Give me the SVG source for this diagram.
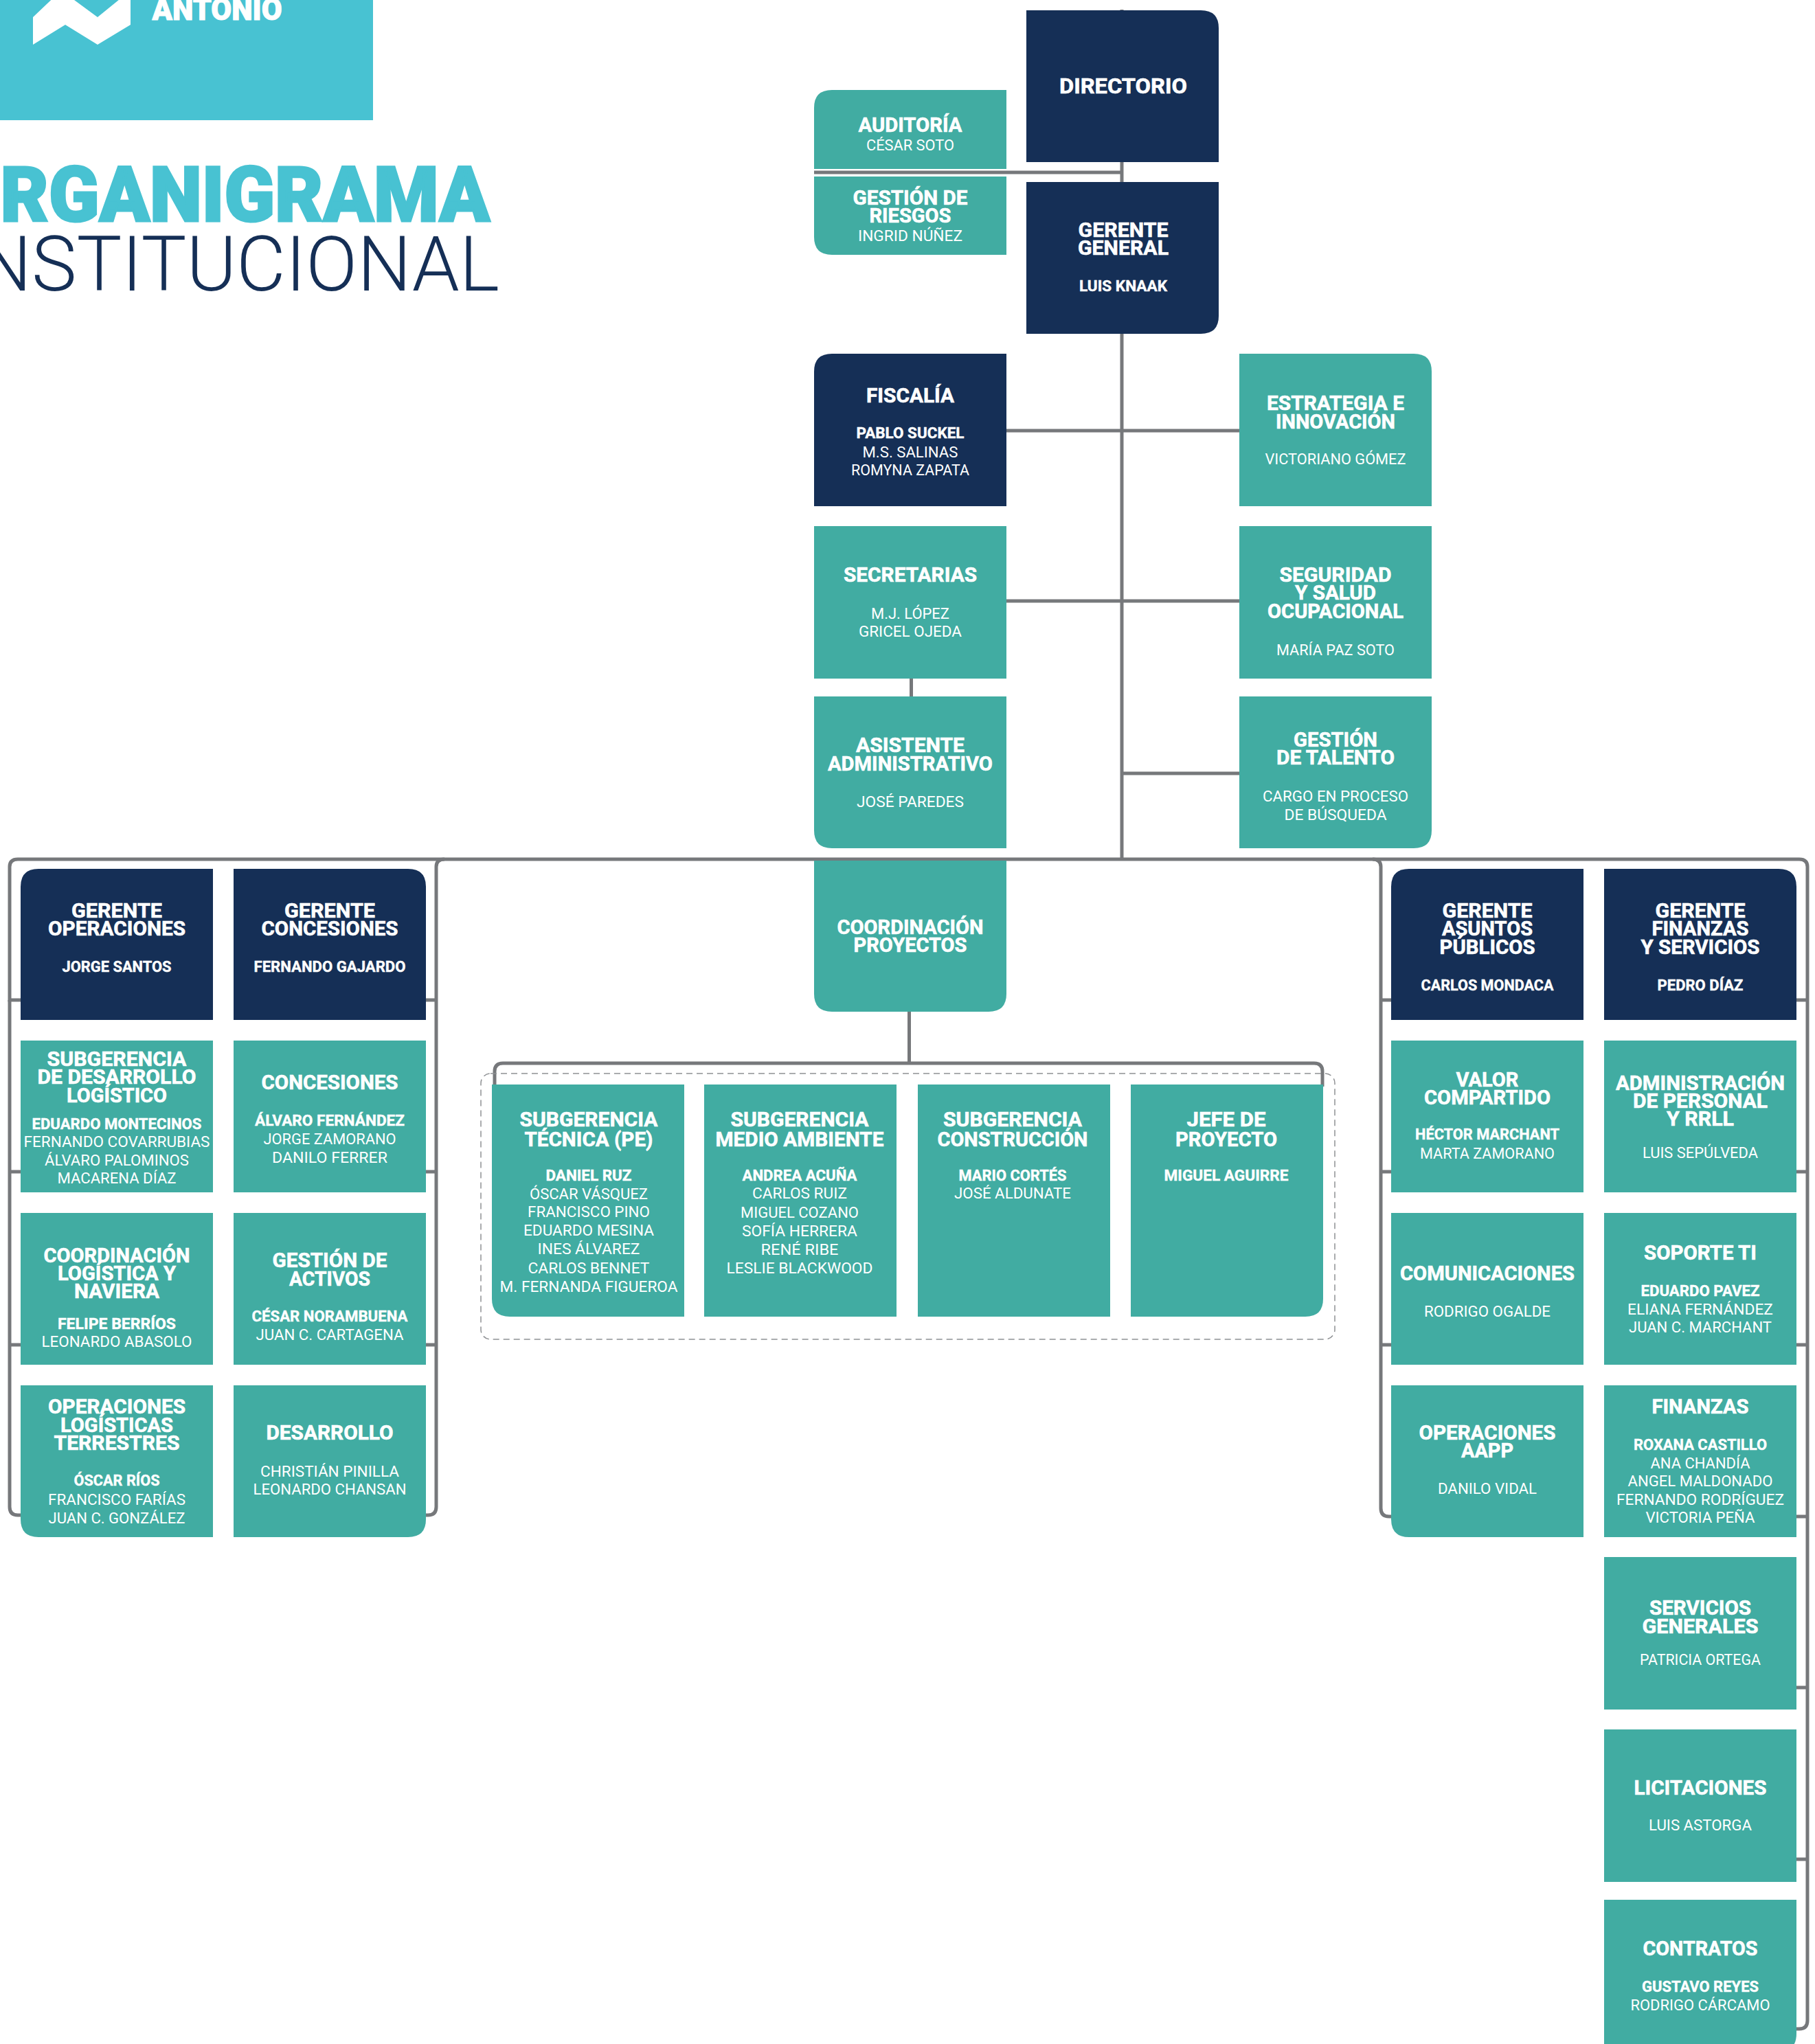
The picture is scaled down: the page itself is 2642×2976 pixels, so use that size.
<svg xmlns="http://www.w3.org/2000/svg" width="2642" height="2976" viewBox="0 0 2642 2976">
<style>
text{font-family:Roboto,"Liberation Sans",sans-serif;fill:#fff;text-anchor:middle;letter-spacing:0}
.t{font-size:30px;font-weight:700;stroke:#fff;stroke-width:.6px}
.b{font-size:22px;font-weight:700;stroke:#fff;stroke-width:.4px}
.n{font-size:22px;font-weight:400}
.navy{fill:#152f56}.teal{fill:#41aca2}
.c{fill:none;stroke:#76787b;stroke-width:5}
</style>
<rect width="2642" height="2976" fill="#fff"/>
<g id="logo">
<rect x="0" y="0" width="543" height="175" fill="#48c2d2"/>
<polygon points="48,25 89,-14 142,25 190,-14 190,36 142,65 95,36 48,65" fill="#fff"/>
<text x="316" y="29" style="font-size:44px;font-weight:900;stroke:#fff;stroke-width:1px" textLength="189" lengthAdjust="spacingAndGlyphs">ANTONIO</text>
</g>
<g id="title">
<text x="-74" y="322" style="font-size:112px;font-weight:900;fill:#48c2d2;stroke:#48c2d2;stroke-width:3px;text-anchor:start" textLength="787" lengthAdjust="spacingAndGlyphs">ORGANIGRAMA</text>
<text x="-62" y="423" style="font-size:112px;font-weight:300;fill:#152f56;text-anchor:start" textLength="789" lengthAdjust="spacingAndGlyphs">INSTITUCIONAL</text>
</g>
<g id="connectors">
<path class="c" d="M1633,14V1250M1185,251H1633M1465,627H1804M1465,875H1804M1633,1126H1804M1326.500,988V1014"/>
<path class="c" d="M30,1456H14V1262Q14,1251 26,1251H2619Q2631,1251 2631,1262V2942Q2631,2954 2619,2954H2610M2615,1456H2631M2615,1706H2631M2615,1958H2631M2615,2208H2631M2615,2457H2631M2615,2707H2631"/>
<path class="c" d="M14,1456V1706H30M14,1706V1958H30M14,1958V2194Q14,2206 26,2206H35"/>
<path class="c" d="M620,1456H635M620,1706H635M620,1958H635M615,2206H623Q635,2206 635,2194V1262Q635,1251 647,1251"/>
<path class="c" d="M1998,1251Q2010,1251 2010,1262V2196Q2010,2208 2022,2208H2030M2010,1456H2025M2010,1706H2025M2010,1958H2025"/>
<path class="c" d="M1323.500,1470V1548M720,1582V1560Q720,1548 732,1548H1913Q1925,1548 1925,1560V1582"/>
<rect x="700" y="1563" width="1243" height="387" rx="14" fill="none" stroke="#8f9194" stroke-width="1.500" stroke-dasharray="9 6"/>
</g>
<g id="auditoria"><path class="teal" d="M1185,246V157Q1185,131 1211,131H1465V246Z"/>
<text class="t" x="1325" y="192" textLength="151" lengthAdjust="spacingAndGlyphs">AUDITORÍA</text><text class="n" x="1325" y="219" textLength="128" lengthAdjust="spacingAndGlyphs">CÉSAR SOTO</text></g>
<g id="riesgos"><path class="teal" d="M1185,257V345Q1185,371 1211,371H1465V257Z"/>
<text class="t" x="1325" y="298" textLength="167" lengthAdjust="spacingAndGlyphs">GESTIÓN DE</text><text class="t" x="1325" y="324" textLength="119" lengthAdjust="spacingAndGlyphs">RIESGOS</text><text class="n" x="1325" y="351" textLength="152" lengthAdjust="spacingAndGlyphs">INGRID NÚÑEZ</text></g>
<g id="directorio"><path class="navy" d="M1494,15H1748Q1774,15 1774,41V236H1494Z"/>
<text x="1635" y="136" style="font-size:32px;font-weight:700;stroke:#fff;stroke-width:.6px" textLength="186" lengthAdjust="spacingAndGlyphs">DIRECTORIO</text></g>
<g id="gerente-general"><path class="navy" d="M1494,265H1774V460Q1774,486 1748,486H1494Z"/>
<text class="t" x="1635" y="345" textLength="131" lengthAdjust="spacingAndGlyphs">GERENTE</text><text class="t" x="1635" y="371" textLength="132" lengthAdjust="spacingAndGlyphs">GENERAL</text><text class="b" x="1635" y="424" textLength="128" lengthAdjust="spacingAndGlyphs">LUIS KNAAK</text></g>
<g id="fiscalia"><path class="navy" d="M1185,737V541Q1185,515 1211,515H1465V737Z"/>
<text class="t" x="1325" y="586" textLength="128" lengthAdjust="spacingAndGlyphs">FISCALÍA</text><text class="b" x="1325" y="638" textLength="157" lengthAdjust="spacingAndGlyphs">PABLO SUCKEL</text><text class="n" x="1325" y="666" textLength="139" lengthAdjust="spacingAndGlyphs">M.S. SALINAS</text><text class="n" x="1325" y="692" textLength="172" lengthAdjust="spacingAndGlyphs">ROMYNA ZAPATA</text></g>
<g id="estrategia"><path class="teal" d="M1804,515H2058Q2084,515 2084,541V737H1804Z"/>
<text class="t" x="1944" y="597" textLength="200" lengthAdjust="spacingAndGlyphs">ESTRATEGIA E</text><text class="t" x="1944" y="624" textLength="174" lengthAdjust="spacingAndGlyphs">INNOVACIÓN</text><text class="n" x="1944" y="676" textLength="205" lengthAdjust="spacingAndGlyphs">VICTORIANO GÓMEZ</text></g>
<g id="secretarias"><rect class="teal" x="1185" y="766" width="280" height="222"/>
<text class="t" x="1325" y="847" textLength="194" lengthAdjust="spacingAndGlyphs">SECRETARIAS</text><text class="n" x="1325" y="901" textLength="114" lengthAdjust="spacingAndGlyphs">M.J. LÓPEZ</text><text class="n" x="1325" y="927" textLength="150" lengthAdjust="spacingAndGlyphs">GRICEL OJEDA</text></g>
<g id="seguridad"><rect class="teal" x="1804" y="766" width="280" height="222"/>
<text class="t" x="1944" y="847" textLength="163" lengthAdjust="spacingAndGlyphs">SEGURIDAD</text><text class="t" x="1944" y="873" textLength="118" lengthAdjust="spacingAndGlyphs">Y SALUD</text><text class="t" x="1944" y="900" textLength="198" lengthAdjust="spacingAndGlyphs">OCUPACIONAL</text><text class="n" x="1944" y="954" textLength="172" lengthAdjust="spacingAndGlyphs">MARÍA PAZ SOTO</text></g>
<g id="asistente"><path class="teal" d="M1185,1014H1465V1235H1211Q1185,1235 1185,1209Z"/>
<text class="t" x="1325" y="1095" textLength="158" lengthAdjust="spacingAndGlyphs">ASISTENTE</text><text class="t" x="1325" y="1122" textLength="240" lengthAdjust="spacingAndGlyphs">ADMINISTRATIVO</text><text class="n" x="1325" y="1175" textLength="156" lengthAdjust="spacingAndGlyphs">JOSÉ PAREDES</text></g>
<g id="talento"><path class="teal" d="M1804,1014H2084V1209Q2084,1235 2058,1235H1804Z"/>
<text class="t" x="1944" y="1087" textLength="122" lengthAdjust="spacingAndGlyphs">GESTIÓN</text><text class="t" x="1944" y="1113" textLength="172" lengthAdjust="spacingAndGlyphs">DE TALENTO</text><text class="n" x="1944" y="1167" textLength="212" lengthAdjust="spacingAndGlyphs">CARGO EN PROCESO</text><text class="n" x="1944" y="1194" textLength="149" lengthAdjust="spacingAndGlyphs">DE BÚSQUEDA</text></g>
<g id="coordinacion-proyectos"><path class="teal" d="M1185,1253H1465V1447Q1465,1473 1439,1473H1211Q1185,1473 1185,1447Z"/>
<text class="t" x="1325" y="1360" textLength="213" lengthAdjust="spacingAndGlyphs">COORDINACIÓN</text><text class="t" x="1325" y="1386" textLength="165" lengthAdjust="spacingAndGlyphs">PROYECTOS</text></g>
<g id="sub-tecnica"><path class="teal" d="M716,1579H996V1917H742Q716,1917 716,1891Z"/>
<text class="t" x="857" y="1640" textLength="201" lengthAdjust="spacingAndGlyphs">SUBGERENCIA</text><text class="t" x="857" y="1669" textLength="187" lengthAdjust="spacingAndGlyphs">TÉCNICA (PE)</text><text class="b" x="857" y="1719" textLength="125" lengthAdjust="spacingAndGlyphs">DANIEL RUZ</text><text class="n" x="857" y="1746" textLength="172" lengthAdjust="spacingAndGlyphs">ÓSCAR VÁSQUEZ</text><text class="n" x="857" y="1772" textLength="178" lengthAdjust="spacingAndGlyphs">FRANCISCO PINO</text><text class="n" x="857" y="1799" textLength="190" lengthAdjust="spacingAndGlyphs">EDUARDO MESINA</text><text class="n" x="857" y="1826" textLength="149" lengthAdjust="spacingAndGlyphs">INES ÁLVAREZ</text><text class="n" x="857" y="1854" textLength="177" lengthAdjust="spacingAndGlyphs">CARLOS BENNET</text><text class="n" x="857" y="1881" textLength="259" lengthAdjust="spacingAndGlyphs">M. FERNANDA FIGUEROA</text></g>
<g id="sub-medio-ambiente"><rect class="teal" x="1025" y="1579" width="280" height="338"/>
<text class="t" x="1164" y="1640" textLength="201" lengthAdjust="spacingAndGlyphs">SUBGERENCIA</text><text class="t" x="1164" y="1669" textLength="245" lengthAdjust="spacingAndGlyphs">MEDIO AMBIENTE</text><text class="b" x="1164" y="1719" textLength="167" lengthAdjust="spacingAndGlyphs">ANDREA ACUÑA</text><text class="n" x="1164" y="1745" textLength="138" lengthAdjust="spacingAndGlyphs">CARLOS RUIZ</text><text class="n" x="1164" y="1773" textLength="172" lengthAdjust="spacingAndGlyphs">MIGUEL COZANO</text><text class="n" x="1164" y="1800" textLength="168" lengthAdjust="spacingAndGlyphs">SOFÍA HERRERA</text><text class="n" x="1164" y="1827" textLength="113" lengthAdjust="spacingAndGlyphs">RENÉ RIBE</text><text class="n" x="1164" y="1854" textLength="213" lengthAdjust="spacingAndGlyphs">LESLIE BLACKWOOD</text></g>
<g id="sub-construccion"><rect class="teal" x="1336" y="1579" width="280" height="338"/>
<text class="t" x="1474" y="1640" textLength="202" lengthAdjust="spacingAndGlyphs">SUBGERENCIA</text><text class="t" x="1474" y="1669" textLength="219" lengthAdjust="spacingAndGlyphs">CONSTRUCCIÓN</text><text class="b" x="1474" y="1719" textLength="157" lengthAdjust="spacingAndGlyphs">MARIO CORTÉS</text><text class="n" x="1474" y="1745" textLength="170" lengthAdjust="spacingAndGlyphs">JOSÉ ALDUNATE</text></g>
<g id="jefe-proyecto"><path class="teal" d="M1646,1579H1926V1891Q1926,1917 1900,1917H1646Z"/>
<text class="t" x="1785" y="1640" textLength="115" lengthAdjust="spacingAndGlyphs">JEFE DE</text><text class="t" x="1785" y="1669" textLength="148" lengthAdjust="spacingAndGlyphs">PROYECTO</text><text class="b" x="1785" y="1719" textLength="181" lengthAdjust="spacingAndGlyphs">MIGUEL AGUIRRE</text></g>
<g id="gerente-operaciones"><path class="navy" d="M30,1485V1291Q30,1265 56,1265H310V1485Z"/>
<text class="t" x="170" y="1336" textLength="132" lengthAdjust="spacingAndGlyphs">GERENTE</text><text class="t" x="170" y="1362" textLength="200" lengthAdjust="spacingAndGlyphs">OPERACIONES</text><text class="b" x="170" y="1415" textLength="159" lengthAdjust="spacingAndGlyphs">JORGE SANTOS</text></g>
<g id="gerente-concesiones"><path class="navy" d="M340,1265H594Q620,1265 620,1291V1485H340Z"/>
<text class="t" x="480" y="1336" textLength="132" lengthAdjust="spacingAndGlyphs">GERENTE</text><text class="t" x="480" y="1362" textLength="199" lengthAdjust="spacingAndGlyphs">CONCESIONES</text><text class="b" x="480" y="1415" textLength="221" lengthAdjust="spacingAndGlyphs">FERNANDO GAJARDO</text></g>
<g id="sub-desarrollo"><rect class="teal" x="30" y="1515" width="280" height="221"/>
<text class="t" x="170" y="1552" textLength="203" lengthAdjust="spacingAndGlyphs">SUBGERENCIA</text><text class="t" x="170" y="1578" textLength="231" lengthAdjust="spacingAndGlyphs">DE DESARROLLO</text><text class="t" x="170" y="1605" textLength="146" lengthAdjust="spacingAndGlyphs">LOGÍSTICO</text><text class="b" x="170" y="1644" textLength="247" lengthAdjust="spacingAndGlyphs">EDUARDO MONTECINOS</text><text class="n" x="170" y="1670" textLength="271" lengthAdjust="spacingAndGlyphs">FERNANDO COVARRUBIAS</text><text class="n" x="170" y="1697" textLength="210" lengthAdjust="spacingAndGlyphs">ÁLVARO PALOMINOS</text><text class="n" x="170" y="1723" textLength="173" lengthAdjust="spacingAndGlyphs">MACARENA DÍAZ</text></g>
<g id="concesiones"><rect class="teal" x="340" y="1515" width="280" height="221"/>
<text class="t" x="480" y="1586" textLength="199" lengthAdjust="spacingAndGlyphs">CONCESIONES</text><text class="b" x="480" y="1639" textLength="218" lengthAdjust="spacingAndGlyphs">ÁLVARO FERNÁNDEZ</text><text class="n" x="480" y="1666" textLength="193" lengthAdjust="spacingAndGlyphs">JORGE ZAMORANO</text><text class="n" x="480" y="1693" textLength="168" lengthAdjust="spacingAndGlyphs">DANILO FERRER</text></g>
<g id="coordinacion-logistica"><rect class="teal" x="30" y="1766" width="280" height="221"/>
<text class="t" x="170" y="1838" textLength="213" lengthAdjust="spacingAndGlyphs">COORDINACIÓN</text><text class="t" x="170" y="1864" textLength="172" lengthAdjust="spacingAndGlyphs">LOGÍSTICA Y</text><text class="t" x="170" y="1890" textLength="124" lengthAdjust="spacingAndGlyphs">NAVIERA</text><text class="b" x="170" y="1935" textLength="172" lengthAdjust="spacingAndGlyphs">FELIPE BERRÍOS</text><text class="n" x="170" y="1961" textLength="219" lengthAdjust="spacingAndGlyphs">LEONARDO ABASOLO</text></g>
<g id="gestion-activos"><rect class="teal" x="340" y="1766" width="280" height="221"/>
<text class="t" x="480" y="1845" textLength="167" lengthAdjust="spacingAndGlyphs">GESTIÓN DE</text><text class="t" x="480" y="1872" textLength="118" lengthAdjust="spacingAndGlyphs">ACTIVOS</text><text class="b" x="480" y="1924" textLength="227" lengthAdjust="spacingAndGlyphs">CÉSAR NORAMBUENA</text><text class="n" x="480" y="1951" textLength="215" lengthAdjust="spacingAndGlyphs">JUAN C. CARTAGENA</text></g>
<g id="operaciones-logisticas"><path class="teal" d="M30,2017H310V2238H56Q30,2238 30,2212Z"/>
<text class="t" x="170" y="2058" textLength="200" lengthAdjust="spacingAndGlyphs">OPERACIONES</text><text class="t" x="170" y="2085" textLength="164" lengthAdjust="spacingAndGlyphs">LOGÍSTICAS</text><text class="t" x="170" y="2111" textLength="183" lengthAdjust="spacingAndGlyphs">TERRESTRES</text><text class="b" x="170" y="2163" textLength="125" lengthAdjust="spacingAndGlyphs">ÓSCAR RÍOS</text><text class="n" x="170" y="2191" textLength="200" lengthAdjust="spacingAndGlyphs">FRANCISCO FARÍAS</text><text class="n" x="170" y="2218" textLength="199" lengthAdjust="spacingAndGlyphs">JUAN C. GONZÁLEZ</text></g>
<g id="desarrollo"><path class="teal" d="M340,2017H620V2212Q620,2238 594,2238H340Z"/>
<text class="t" x="480" y="2096" textLength="185" lengthAdjust="spacingAndGlyphs">DESARROLLO</text><text class="n" x="480" y="2150" textLength="202" lengthAdjust="spacingAndGlyphs">CHRISTIÁN PINILLA</text><text class="n" x="480" y="2176" textLength="223" lengthAdjust="spacingAndGlyphs">LEONARDO CHANSAN</text></g>
<g id="gerente-asuntos"><path class="navy" d="M2025,1485V1291Q2025,1265 2051,1265H2305V1485Z"/>
<text class="t" x="2165" y="1336" textLength="131" lengthAdjust="spacingAndGlyphs">GERENTE</text><text class="t" x="2165" y="1362" textLength="132" lengthAdjust="spacingAndGlyphs">ASUNTOS</text><text class="t" x="2165" y="1389" textLength="139" lengthAdjust="spacingAndGlyphs">PÚBLICOS</text><text class="b" x="2165" y="1442" textLength="193" lengthAdjust="spacingAndGlyphs">CARLOS MONDACA</text></g>
<g id="gerente-finanzas"><path class="navy" d="M2335,1265H2589Q2615,1265 2615,1291V1485H2335Z"/>
<text class="t" x="2475" y="1336" textLength="131" lengthAdjust="spacingAndGlyphs">GERENTE</text><text class="t" x="2475" y="1362" textLength="141" lengthAdjust="spacingAndGlyphs">FINANZAS</text><text class="t" x="2475" y="1389" textLength="173" lengthAdjust="spacingAndGlyphs">Y SERVICIOS</text><text class="b" x="2475" y="1442" textLength="125" lengthAdjust="spacingAndGlyphs">PEDRO DÍAZ</text></g>
<g id="valor-compartido"><rect class="teal" x="2025" y="1515" width="280" height="221"/>
<text class="t" x="2165" y="1582" textLength="91" lengthAdjust="spacingAndGlyphs">VALOR</text><text class="t" x="2165" y="1608" textLength="184" lengthAdjust="spacingAndGlyphs">COMPARTIDO</text><text class="b" x="2165" y="1659" textLength="210" lengthAdjust="spacingAndGlyphs">HÉCTOR MARCHANT</text><text class="n" x="2165" y="1687" textLength="196" lengthAdjust="spacingAndGlyphs">MARTA ZAMORANO</text></g>
<g id="administracion-personal"><rect class="teal" x="2335" y="1515" width="280" height="221"/>
<text class="t" x="2475" y="1587" textLength="246" lengthAdjust="spacingAndGlyphs">ADMINISTRACIÓN</text><text class="t" x="2475" y="1613" textLength="196" lengthAdjust="spacingAndGlyphs">DE PERSONAL</text><text class="t" x="2475" y="1639" textLength="98" lengthAdjust="spacingAndGlyphs">Y RRLL</text><text class="n" x="2475" y="1686" textLength="168" lengthAdjust="spacingAndGlyphs">LUIS SEPÚLVEDA</text></g>
<g id="comunicaciones"><rect class="teal" x="2025" y="1766" width="280" height="221"/>
<text class="t" x="2165" y="1864" textLength="254" lengthAdjust="spacingAndGlyphs">COMUNICACIONES</text><text class="n" x="2165" y="1917" textLength="184" lengthAdjust="spacingAndGlyphs">RODRIGO OGALDE</text></g>
<g id="soporte-ti"><rect class="teal" x="2335" y="1766" width="280" height="221"/>
<text class="t" x="2475" y="1834" textLength="164" lengthAdjust="spacingAndGlyphs">SOPORTE TI</text><text class="b" x="2475" y="1887" textLength="173" lengthAdjust="spacingAndGlyphs">EDUARDO PAVEZ</text><text class="n" x="2475" y="1914" textLength="212" lengthAdjust="spacingAndGlyphs">ELIANA FERNÁNDEZ</text><text class="n" x="2475" y="1940" textLength="208" lengthAdjust="spacingAndGlyphs">JUAN C. MARCHANT</text></g>
<g id="operaciones-aapp"><path class="teal" d="M2025,2017H2305V2238H2051Q2025,2238 2025,2212Z"/>
<text class="t" x="2165" y="2096" textLength="199" lengthAdjust="spacingAndGlyphs">OPERACIONES</text><text class="t" x="2165" y="2122" textLength="76" lengthAdjust="spacingAndGlyphs">AAPP</text><text class="n" x="2165" y="2175" textLength="144" lengthAdjust="spacingAndGlyphs">DANILO VIDAL</text></g>
<g id="finanzas"><rect class="teal" x="2335" y="2017" width="280" height="221"/>
<text class="t" x="2475" y="2058" textLength="141" lengthAdjust="spacingAndGlyphs">FINANZAS</text><text class="b" x="2475" y="2111" textLength="194" lengthAdjust="spacingAndGlyphs">ROXANA CASTILLO</text><text class="n" x="2475" y="2138" textLength="145" lengthAdjust="spacingAndGlyphs">ANA CHANDÍA</text><text class="n" x="2475" y="2164" textLength="211" lengthAdjust="spacingAndGlyphs">ANGEL MALDONADO</text><text class="n" x="2475" y="2191" textLength="244" lengthAdjust="spacingAndGlyphs">FERNANDO RODRÍGUEZ</text><text class="n" x="2475" y="2217" textLength="159" lengthAdjust="spacingAndGlyphs">VICTORIA PEÑA</text></g>
<g id="servicios-generales"><rect class="teal" x="2335" y="2267" width="280" height="222"/>
<text class="t" x="2475" y="2351" textLength="148" lengthAdjust="spacingAndGlyphs">SERVICIOS</text><text class="t" x="2475" y="2378" textLength="169" lengthAdjust="spacingAndGlyphs">GENERALES</text><text class="n" x="2475" y="2424" textLength="176" lengthAdjust="spacingAndGlyphs">PATRICIA ORTEGA</text></g>
<g id="licitaciones"><rect class="teal" x="2335" y="2518" width="280" height="222"/>
<text class="t" x="2475" y="2613" textLength="193" lengthAdjust="spacingAndGlyphs">LICITACIONES</text><text class="n" x="2475" y="2665" textLength="150" lengthAdjust="spacingAndGlyphs">LUIS ASTORGA</text></g>
<g id="contratos"><path class="teal" d="M2335,2766H2615V2961Q2615,2987 2589,2987H2335Z"/>
<text class="t" x="2475" y="2847" textLength="167" lengthAdjust="spacingAndGlyphs">CONTRATOS</text><text class="b" x="2475" y="2900" textLength="170" lengthAdjust="spacingAndGlyphs">GUSTAVO REYES</text><text class="n" x="2475" y="2927" textLength="203" lengthAdjust="spacingAndGlyphs">RODRIGO CÁRCAMO</text></g>
</svg>
